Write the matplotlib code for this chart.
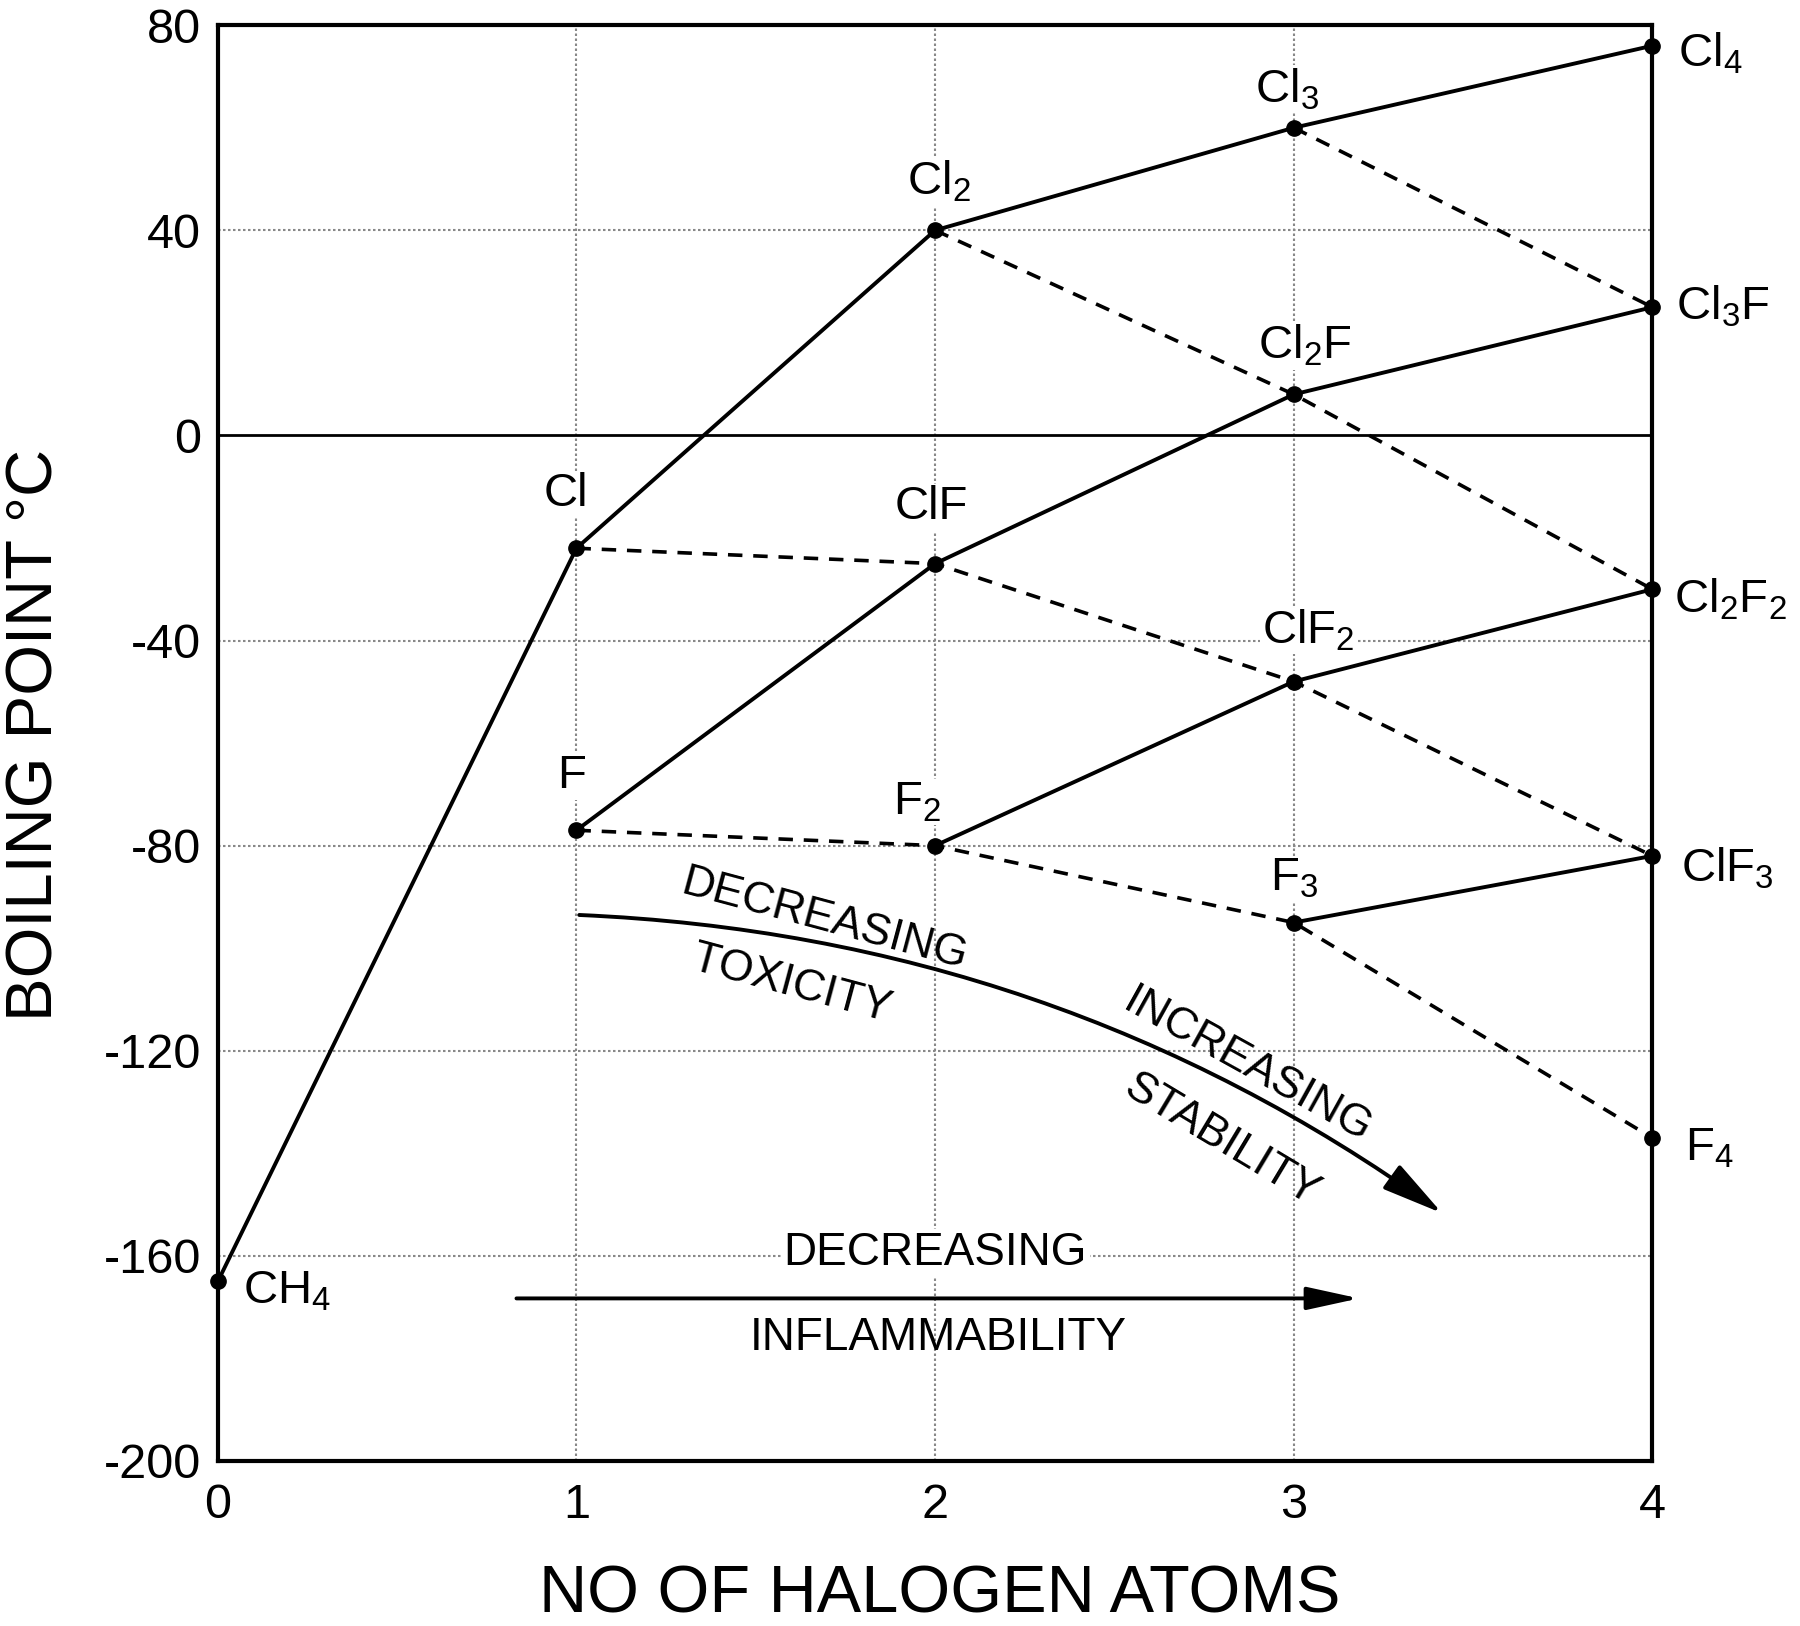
import matplotlib
matplotlib.use('Agg')
import matplotlib.pyplot as plt
from matplotlib.patches import FancyArrowPatch

plt.rcParams['font.family'] = ['Liberation Sans', 'DejaVu Sans']
plt.rcParams['mathtext.fontset'] = 'custom'
plt.rcParams['mathtext.rm'] = 'Liberation Sans'

# data
names = ['CH4', 'Cl', 'F', 'Cl2', 'ClF', 'F2', 'Cl3', 'Cl2F', 'ClF2', 'F3',
         'Cl4', 'Cl3F', 'Cl2F2', 'ClF3', 'F4']
halogens = [0, 1, 1, 2, 2, 2, 3, 3, 3, 3, 4, 4, 4, 4, 4]
boiling = [-165, -22, -77, 40, -25, -80, 60, 8, -48, -95, 76, 25, -30, -82, -137]
labels = [r'CH$_\mathregular{4}$', 'Cl', 'F', r'Cl$_\mathregular{2}$', 'ClF', r'F$_\mathregular{2}$',
          r'Cl$_\mathregular{3}$', r'Cl$_\mathregular{2}$F', r'ClF$_\mathregular{2}$', r'F$_\mathregular{3}$',
          r'Cl$_\mathregular{4}$', r'Cl$_\mathregular{3}$F', r'Cl$_\mathregular{2}$F$_\mathregular{2}$',
          r'ClF$_\mathregular{3}$', r'F$_\mathregular{4}$']

solid_chains = [['CH4', 'Cl', 'Cl2', 'Cl3', 'Cl4'],
                ['F', 'ClF', 'Cl2F', 'Cl3F'],
                ['F2', 'ClF2', 'Cl2F2'],
                ['F3', 'ClF3']]
dashed_chains = [['Cl', 'ClF', 'ClF2', 'ClF3'],
                 ['Cl2', 'Cl2F', 'Cl2F2'],
                 ['Cl3', 'Cl3F'],
                 ['F', 'F2', 'F3', 'F4']]

x_ticks = [0, 1, 2, 3, 4]
y_ticks = [-200, -160, -120, -80, -40, 0, 40, 80]

# where each label sits (dx, dy from point, alignment)
label_pos = {
    'CH4': (0.07, -2, 'left'), 'Cl': (-0.03, 10.5, 'center'), 'F': (-0.015, 10.5, 'center'),
    'Cl2': (0.01, 9.5, 'center'), 'ClF': (-0.01, 11, 'center'), 'F2': (-0.05, 8.5, 'center'),
    'Cl3': (-0.02, 7.5, 'center'), 'Cl2F': (0.03, 9.5, 'center'), 'ClF2': (0.04, 10, 'center'),
    'F3': (0.0, 8.5, 'center'), 'Cl4': (0.07, -1.5, 'left'), 'Cl3F': (0.065, 0, 'left'),
    'Cl2F2': (0.06, -2, 'left'), 'ClF3': (0.08, -2.5, 'left'), 'F4': (0.09, -2, 'left'),
}

idx = {n: i for i, n in enumerate(names)}

fig = plt.figure(figsize=(18, 16.26), dpi=100)
ax = fig.add_axes([0.121, 0.1015, 0.797, 0.883])
ax.set_xlim(0, 4)
ax.set_ylim(-200, 80)

for g in [1, 2, 3]:
    ax.axvline(g, color='#888888', lw=1.5, ls=(0, (1.2, 1.2)), zorder=0)
for v in [40, -40, -80, -120, -160]:
    ax.axhline(v, color='#888888', lw=1.5, ls=(0, (1.2, 1.2)), zorder=0)
ax.axhline(0, color='black', lw=2.0, zorder=1)

for chain in solid_chains:
    ax.plot([halogens[idx[n]] for n in chain], [boiling[idx[n]] for n in chain],
            color='black', lw=2.8, zorder=3)
for chain in dashed_chains:
    ax.plot([halogens[idx[n]] for n in chain], [boiling[idx[n]] for n in chain],
            color='black', lw=2.6, ls=(0, (4, 3)), zorder=3)
ax.plot(halogens, boiling, 'o', color='black', ms=11, zorder=4, clip_on=False)

for n, lab in zip(names, labels):
    dx, dy, ha = label_pos[n]
    ax.text(halogens[idx[n]] + dx, boiling[idx[n]] + dy, lab, ha=ha, va='center',
            fontsize=34, zorder=5,
            bbox=dict(facecolor='white', edgecolor='none', pad=1))

# curved arrow
arr = FancyArrowPatch((1.0, -93.5), (3.42, -152), connectionstyle='arc3,rad=-0.15',
                      arrowstyle='-|>,head_length=1.9,head_width=0.45', mutation_scale=20,
                      color='black', lw=2.8, zorder=3)
ax.add_patch(arr)
ax.text(1.69, -94.5, 'DECREASING', rotation=-15, ha='center', va='center', fontsize=32)
ax.text(1.6, -107, 'TOXICITY', rotation=-15, ha='center', va='center', fontsize=32)
ax.text(2.87, -123, 'INCREASING', rotation=-29, ha='center', va='center', fontsize=32)
ax.text(2.8, -137.5, 'STABILITY', rotation=-31, ha='center', va='center', fontsize=32)

# straight arrow
ax.annotate('', xy=(3.19, -168.3), xytext=(0.825, -168.3),
            arrowprops=dict(arrowstyle='-|>,head_length=1.6,head_width=0.35', color='black',
                            lw=2.8, mutation_scale=20))
ax.text(2.0, -159.5, 'DECREASING', ha='center', va='center', fontsize=33,
        bbox=dict(facecolor='white', edgecolor='none', pad=2))
ax.text(2.01, -176, 'INFLAMMABILITY', ha='center', va='center', fontsize=33)

ax.set_xticks(x_ticks)
ax.set_xticklabels([str(t) for t in x_ticks])
ax.set_yticks(y_ticks)
ax.set_yticklabels([str(t) for t in y_ticks])
ax.tick_params(length=0, labelsize=35, pad=12)
ax.tick_params(axis='x', pad=16)
for s in ax.spines.values():
    s.set_linewidth(3)

fig.text(0.522, 0.0185, 'NO OF HALOGEN ATOMS', ha='center', va='center', fontsize=48)
fig.text(0.02, 0.548, 'BOILING POINT °C', ha='center', va='center', fontsize=47, rotation=90)

fig.savefig('out.png', dpi=100)
